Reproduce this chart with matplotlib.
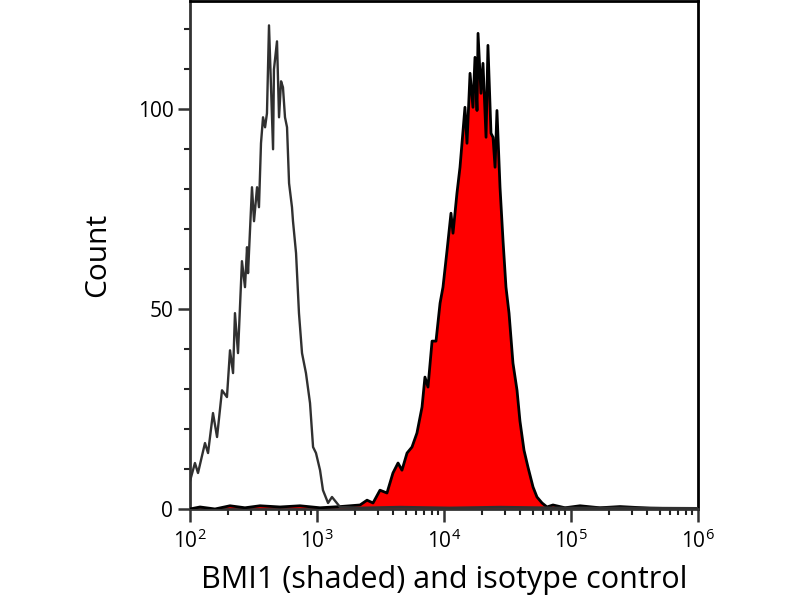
import matplotlib
matplotlib.use("Agg")
import matplotlib.pyplot as plt
import numpy as np
from matplotlib.ticker import FixedLocator, LogLocator, NullFormatter

plt.rcParams["font.family"] = ["Open Sans", "DejaVu Sans"]
plt.rcParams["mathtext.default"] = "regular"

# isotype control (open histogram): log10 intensity, count
iso_log = [2.000, 2.039, 2.063, 2.118, 2.142, 2.181, 2.213, 2.252, 2.291, 2.315,
           2.339, 2.354, 2.378, 2.409, 2.433, 2.449, 2.457, 2.488, 2.504, 2.528,
           2.543, 2.559, 2.575, 2.591, 2.606, 2.622, 2.654, 2.661, 2.685, 2.701,
           2.717, 2.732, 2.748, 2.764, 2.780, 2.803, 2.811, 2.835, 2.858, 2.882,
           2.913, 2.945, 2.969, 2.992, 3.024, 3.047, 3.087, 3.118, 3.181, 3.339,
           3.654, 4.047, 4.441, 4.913, 5.386, 6.000]
iso_count = [7, 11.5, 9, 16.5, 14, 24, 18, 29.7, 28, 39.7,
             34, 49, 39, 62, 55.5, 65.5, 59, 80.5, 72, 80.5,
             75.5, 91.5, 98, 95.5, 99, 121, 90, 110, 117, 98,
             107, 105.5, 98, 95.5, 81.5, 75.5, 72, 64, 49, 39,
             34, 26.5, 15.5, 14, 9.7, 4.7, 1.5, 3, 0.5, 0.3,
             0.5, 0.3, 0.5, 0.3, 0.3, 0.2]

# BMI1 stained (shaded histogram)
bmi_log = [2.000, 2.079, 2.197, 2.315, 2.433, 2.551, 2.709, 2.866, 3.024, 3.181,
           3.339, 3.394, 3.441, 3.496, 3.551, 3.598, 3.638, 3.669, 3.709, 3.748,
           3.787, 3.827, 3.850, 3.874, 3.906, 3.937, 3.969, 3.992, 4.024, 4.055,
           4.071, 4.102, 4.126, 4.150, 4.165, 4.181, 4.205, 4.228, 4.244, 4.260,
           4.268, 4.291, 4.307, 4.331, 4.346, 4.370, 4.386, 4.402, 4.417, 4.441,
           4.465, 4.488, 4.512, 4.543, 4.575, 4.598, 4.630, 4.661, 4.701, 4.732,
           4.772, 4.811, 4.858, 4.953, 5.071, 5.228, 5.386, 5.622, 6.000]
bmi_count = [0, 0.5, 0, 0.8, 0.3, 0.8, 0.5, 0.8, 0.3, 0.6,
             1, 2.2, 1.5, 4.7, 4, 9, 11.5, 9.7, 14, 15.5,
             19, 25.5, 33, 30.5, 42, 42, 51.5, 55.5, 64.7, 74,
             69, 79, 85.5, 94.7, 100.5, 91.5, 109, 100.5, 113, 99.7,
             119, 104, 111.5, 93, 116, 94, 93, 85.5, 99.7, 80.5,
             67, 55.5, 49, 36.5, 29.7, 22, 14.7, 10.5, 5.5, 3,
             1.5, 0.5, 1, 0.3, 0.8, 0.3, 0.6, 0.2, 0]

iso_x = 10 ** np.array(iso_log)
bmi_x = 10 ** np.array(bmi_log)

fig = plt.figure(figsize=(8, 6), dpi=100)
ax = fig.add_axes([0.2375, 0.1517, 0.635, 0.846])

ax.fill_between(bmi_x, bmi_count, 0, color="#ff0000", linewidth=0, zorder=2)
ax.plot(bmi_x, bmi_count, color="black", linewidth=2.0, zorder=3)
ax.plot(iso_x, iso_count, color="#303030", linewidth=1.7, zorder=4)

ax.set_xscale("log")
ax.set_xlim(1e2, 1e6)
ax.set_ylim(0, 127)

ax.yaxis.set_major_locator(FixedLocator([0, 50, 100]))
ax.yaxis.set_minor_locator(FixedLocator([10, 20, 30, 40, 60, 70, 80, 90, 110, 120]))
ax.xaxis.set_major_locator(LogLocator(base=10, numticks=10))
ax.xaxis.set_minor_locator(LogLocator(base=10, subs=np.arange(2, 10), numticks=40))
ax.xaxis.set_minor_formatter(NullFormatter())

for side in ("left", "bottom"):
    ax.spines[side].set_color("#333333")
    ax.spines[side].set_linewidth(2)
for side in ("top", "right"):
    ax.spines[side].set_color("black")
    ax.spines[side].set_linewidth(2)

ax.tick_params(which="major", direction="out", length=9, width=1.8,
               color="#333333", labelsize=15, pad=3)
ax.tick_params(which="minor", direction="out", length=4, width=1.5,
               color="#222222")
ax.tick_params(axis="x", which="major", pad=6)

ax.set_ylabel("Count", fontsize=21.5, labelpad=18)
ax.set_xlabel("BMI1 (shaded) and isotype control", fontsize=22, labelpad=8)

fig.savefig("out.png", dpi=100)
